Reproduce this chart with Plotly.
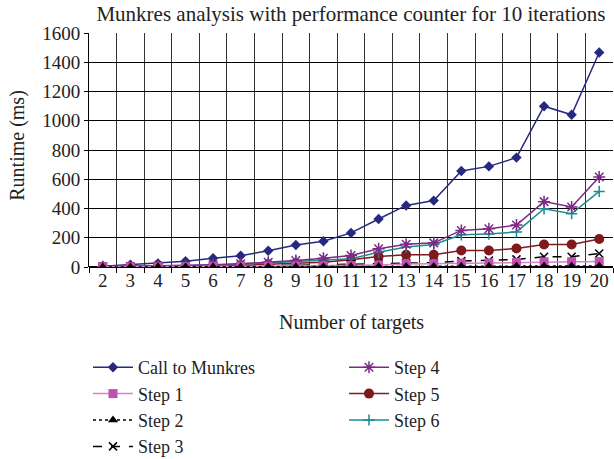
import plotly.graph_objects as go

targets = list(range(2, 21))
call_munkres = [5, 15, 25, 40, 60, 77, 111, 150, 176, 233, 328, 421, 454, 656, 688, 748, 1099, 1041, 1467]
step1 = [1, 1, 2, 3, 4, 5, 6, 8, 9, 10, 14, 20, 22, 27, 28, 31, 35, 36, 37]
step2 = [0, 0, 1, 1, 1, 1, 2, 2, 2, 3, 3, 4, 4, 5, 5, 6, 6, 7, 7]
step3 = [1, 1, 2, 3, 4, 6, 8, 11, 14, 20, 24, 28, 30, 40, 45, 52, 70, 70, 92]
step4 = [2, 4, 6, 9, 15, 22, 32, 45, 60, 79, 125, 155, 165, 250, 261, 287, 447, 410, 615]
step5 = [1, 2, 3, 5, 8, 12, 18, 25, 33, 49, 72, 83, 83, 113, 113, 127, 154, 154, 192]
step6 = [2, 3, 5, 8, 13, 19, 27, 38, 48, 56, 101, 136, 154, 220, 225, 240, 398, 364, 517]
y_ticks = list(range(0, 1601, 200))

FONT = "Liberation Serif"
TXT = "#222"
W, H = 614, 459
fig = go.Figure()

def add(name, y, color, symbol, size, dash="solid", lcolor=None, legend="legend", rank=1, mline=None):
    fig.add_trace(go.Scatter(
        x=targets, y=y, name=name, mode="lines+markers",
        line=dict(color=lcolor or color, width=1.5, dash=dash),
        marker=dict(color=color, symbol=symbol, size=size,
                    line=dict(color=color, width=mline if mline else 0)),
        legend=legend, legendrank=rank, legendgroup=name,
    ))

add("Call to Munkres", call_munkres, "#262A7E", "diamond", 8, legend="legend", rank=1)
add("Step 5", step5, "#7E1A1E", "circle", 10, legend="legend2", rank=2)
add("Step 6", step6, "#1C8C8C", "cross-thin-open", 8, legend="legend2", rank=3, mline=1.5)
add("Step 4", step4, "#7D2A86", "asterisk-open", 10, legend="legend2", rank=1, mline=1.5)
add("Step 3", step3, "#000000", "x-thin-open", 8, dash="dash", legend="legend", rank=4, mline=1.5)
add("Step 1", step1, "#C24FB2", "square", 9, lcolor="#D484C8", legend="legend", rank=2)
add("Step 2", step2, "#000000", "triangle-up", 9, dash="dot", legend="legend", rank=3)

legend_common = dict(
    font=dict(family=FONT, size=18, color=TXT),
    bgcolor="rgba(0,0,0,0)", traceorder="grouped", tracegroupgap=0,
    xref="container", yref="container", yanchor="top", xanchor="left",
    itemwidth=40,
)
fig.update_layout(
    width=W, height=H,
    margin=dict(l=89, r=1, t=33, b=192, autoexpand=False),
    paper_bgcolor="white", plot_bgcolor="white",
    font=dict(family=FONT, size=16, color=TXT),
    title=dict(text="Munkres analysis with performance counter for 10 iterations",
               x=0.5, xref="paper", xanchor="center", y=1 - 14 / H, yref="container",
               yanchor="middle", font=dict(family=FONT, size=21, color=TXT)),
    legend=dict(x=88 / W, y=1 - 349 / H, **legend_common),
    legend2=dict(x=344 / W, y=1 - 349 / H, **legend_common),
    showlegend=True,
    annotations=[
        dict(text="Number of targets", xref="paper", yref="paper", x=0.5, y=-(321 - 266) / 233.5,
             xanchor="center", yanchor="middle", showarrow=False,
             font=dict(family=FONT, size=20, color=TXT)),
        dict(text="Runtime (ms)", xref="paper", yref="paper", x=-(89 - 18) / 524, y=(266 - 145) / 233.5,
             xanchor="center", yanchor="middle", showarrow=False, textangle=-90,
             font=dict(family=FONT, size=20, color=TXT)),
    ],
)
fig.update_xaxes(
    range=[1.5, 20.5], tickvals=targets, ticktext=[str(t) for t in targets],
    showgrid=False, ticks="", showline=False, zeroline=False, automargin=False,
    tickfont=dict(family=FONT, size=19, color=TXT),
    minor=dict(tick0=1.5, dtick=1, showgrid=True, gridcolor="#333", gridwidth=1,
               ticks="outside", ticklen=5, tickcolor="#000"),
)
fig.update_yaxes(
    range=[0, 1600], tickvals=y_ticks, showgrid=True, gridcolor="#000", gridwidth=1,
    ticks="outside", ticklen=4, tickcolor="#000", showline=True, linecolor="#000",
    zeroline=True, zerolinecolor="#000", zerolinewidth=1.5, automargin=False,
    tickfont=dict(family=FONT, size=19, color=TXT),
)
fig.write_html("out.html", config={"displayModeBar": False},
               post_script="document.body.style.margin='0';")
